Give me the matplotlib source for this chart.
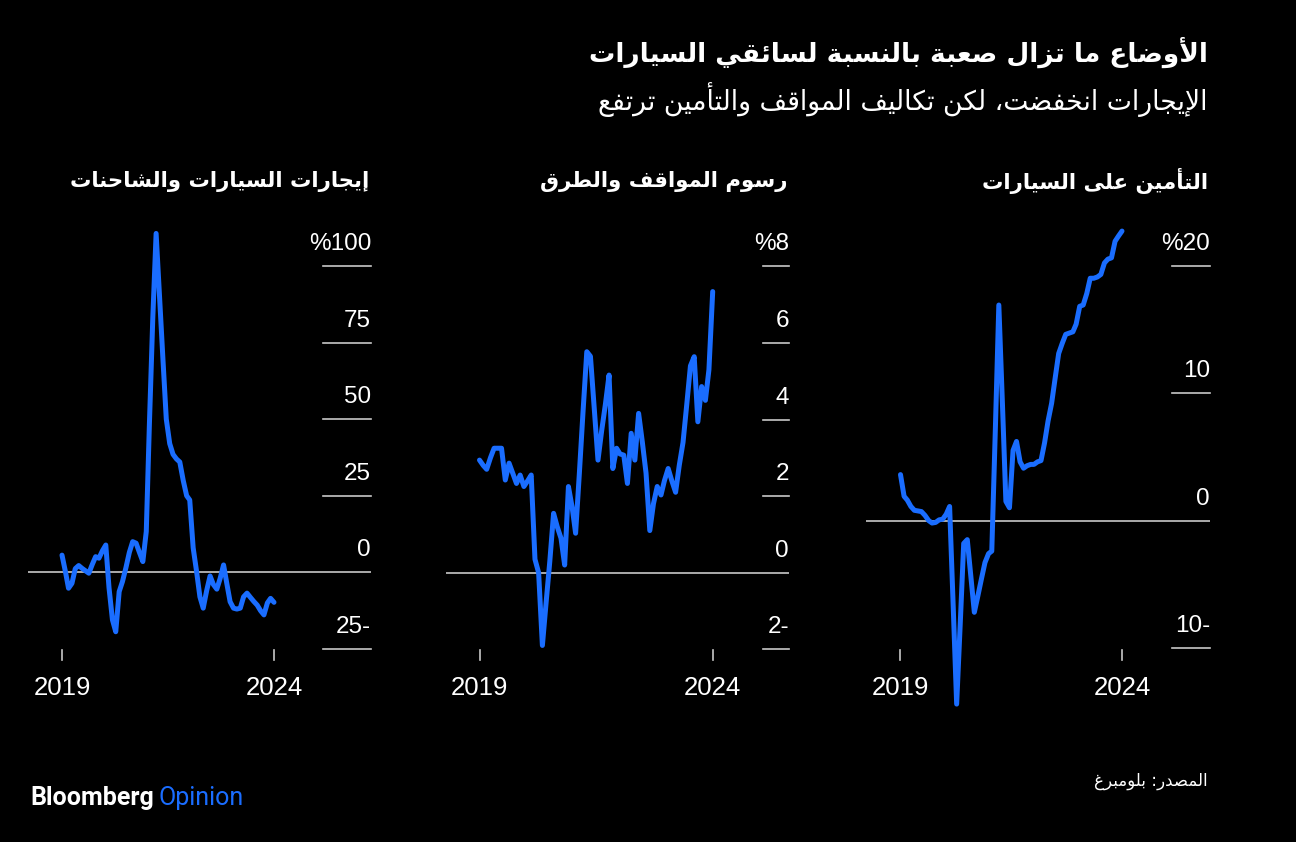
import matplotlib
matplotlib.use("Agg")
import matplotlib.pyplot as plt
import matplotlib.dates as mdates
from matplotlib.transforms import blended_transform_factory
import pandas as pd

# ---------------- data ----------------
dates = pd.date_range("2019-01-01", periods=64, freq="MS")
year_labels = ["2019", "2024"]

insurance = [3.6, 1.9, 1.6, 1.1, 0.8, 0.75, 0.7, 0.4, 0.0, -0.2,
             -0.15, 0.05, 0.1, 0.5, 1.1, -6.7, -14.4, -8.1, -1.8, -1.5,
             -4.4, -7.2, -5.9, -4.6, -3.3, -2.6, -2.4, 7.2, 16.9, 9.2,
             1.5, 1.0, 5.5, 6.2, 4.6, 4.1, 4.3, 4.4, 4.4, 4.6,
             4.7, 6.1, 7.8, 9.2, 11.2, 13.1, 13.9, 14.6, 14.7, 14.8,
             15.4, 16.8, 16.9, 17.8, 19.0, 19.0, 19.1, 19.3, 20.2, 20.5,
             20.6, 21.9, 22.3, 22.7]

parking = [2.94, 2.8, 2.7, 3.0, 3.25, 3.25, 3.25, 2.42, 2.86, 2.6,
           2.33, 2.55, 2.25, 2.4, 2.55, 0.35, 0.0, -1.9, -0.8, 0.3,
           1.55, 1.2, 0.9, 0.2, 2.25, 1.7, 1.03, 2.6, 4.2, 5.77,
           5.65, 4.3, 2.94, 3.7, 4.4, 5.16, 2.72, 3.25, 3.1, 3.07,
           2.33, 3.64, 2.94, 4.16, 3.4, 2.6, 1.1, 1.8, 2.25, 2.03,
           2.4, 2.72, 2.4, 2.1, 2.8, 3.4, 4.4, 5.4, 5.64, 3.94,
           4.86, 4.5, 5.3, 7.34]

rentals = [5.6, 0.2, -5.2, -3.6, 1.2, 2.2, 1.3, 0.5, -0.3, 2.5,
           5.1, 4.6, 7.0, 8.9, -5.0, -15.5, -19.4, -6.3, -3.0, 1.5,
           6.5, 10.0, 9.5, 6.5, 3.5, 13.3, 48.0, 83.0, 110.6, 90.0,
           70.0, 50.0, 42.0, 38.5, 37.0, 36.0, 30.0, 25.0, 23.6, 8.0,
           0.5, -8.0, -11.7, -6.0, -1.2, -4.0, -5.5, -2.0, 2.4, -4.0,
           -9.6, -11.7, -12.0, -11.7, -8.0, -6.8, -8.2, -9.5, -10.7, -12.5,
           -13.9, -10.0, -8.5, -9.8]

ins_ticks = [20, 10, 0, -10]
ins_labels = ["%20", "10", "0", "10-"]
park_ticks = [8, 6, 4, 2, 0, -2]
park_labels = ["%8", "6", "4", "2", "0", "2-"]
rent_ticks = [100, 75, 50, 25, 0, -25]
rent_labels = ["%100", "75", "50", "25", "0", "25-"]

title = "الأوضاع ما تزال صعبة بالنسبة لسائقي السيارات"
subtitle = "الإيجارات انخفضت، لكن تكاليف المواقف والتأمين ترتفع"
panel_titles = ["التأمين على السيارات", "رسوم المواقف والطرق", "إيجارات السيارات والشاحنات"]
source = "المصدر: بلومبرغ"

# ---------------- Arabic shaping (presentation forms + visual order) ----------------
DUAL = {'ئ': 0xFE89, 'ب': 0xFE8F, 'ت': 0xFE95, 'ث': 0xFE99, 'ج': 0xFE9D, 'ح': 0xFEA1,
        'خ': 0xFEA5, 'س': 0xFEB1, 'ش': 0xFEB5, 'ص': 0xFEB9, 'ض': 0xFEBD, 'ط': 0xFEC1,
        'ظ': 0xFEC5, 'ع': 0xFEC9, 'غ': 0xFECD, 'ف': 0xFED1, 'ق': 0xFED5, 'ك': 0xFED9,
        'ل': 0xFEDD, 'م': 0xFEE1, 'ن': 0xFEE5, 'ه': 0xFEE9, 'ي': 0xFEF1}
RIGHT = {'آ': 0xFE81, 'أ': 0xFE83, 'ؤ': 0xFE85, 'إ': 0xFE87, 'ا': 0xFE8D, 'ة': 0xFE93,
         'د': 0xFEA9, 'ذ': 0xFEAB, 'ر': 0xFEAD, 'ز': 0xFEAF, 'و': 0xFEED, 'ى': 0xFEEF}
LAMALEF = {'آ': 0xFEF5, 'أ': 0xFEF7, 'إ': 0xFEF9, 'ا': 0xFEFB}


def shape(s):
    units = []
    i = 0
    while i < len(s):
        c = s[i]
        if c == 'ل' and i + 1 < len(s) and s[i + 1] in LAMALEF:
            units.append(('R', LAMALEF[s[i + 1]]))
            i += 2
            continue
        if c in DUAL:
            units.append(('D', DUAL[c]))
        elif c in RIGHT:
            units.append(('R', RIGHT[c]))
        else:
            units.append(('N', c))
        i += 1
    out = []
    for k, (t, v) in enumerate(units):
        if t == 'N':
            out.append(v if isinstance(v, str) else chr(v))
            continue
        jp = k > 0 and units[k - 1][0] == 'D'
        jn = t == 'D' and k + 1 < len(units) and units[k + 1][0] in ('D', 'R')
        if t == 'D':
            off = 3 if (jp and jn) else 2 if jn else 1 if jp else 0
        else:
            off = 1 if jp else 0
        out.append(chr(v + off))
    return ''.join(out)[::-1]


# ---------------- figure ----------------
W, H = 1296, 842
BG = "#000000"
BLUE = "#1a6dff"
GRID = "#c8c8c8"
WHITE = "#ffffff"
ARFONT = ["DejaVu Sans"]
NUMFONT = ["Liberation Sans", "DejaVu Sans"]

fig = plt.figure(figsize=(W / 100, H / 100), dpi=100, facecolor=BG)


def fx(px):
    return px / W


def fy(py):
    return 1 - py / H


TOP, BOT = 215, 715

panels = [
    # L, R, zero pixel, px per unit, data start px, data end px, short line width
    dict(L=866, R=1210, y0=520.5, ppu=12.75, a=900.5, b=1122, sw=38,
         data=insurance, ticks=ins_ticks, labels=ins_labels, title=panel_titles[0]),
    dict(L=446, R=789, y0=572.7, ppu=38.3, a=479.5, b=712.7, sw=26,
         data=parking, ticks=park_ticks, labels=park_labels, title=panel_titles[1]),
    dict(L=28, R=371, y0=572.3, ppu=3.064, a=62, b=274, sw=48,
         data=rentals, ticks=rent_ticks, labels=rent_labels, title=panel_titles[2]),
]

dnum = mdates.date2num(dates)
for p in panels:
    ax = fig.add_axes([fx(p["L"]), fy(BOT), fx(p["R"] - p["L"]), (BOT - TOP) / H])
    ax.set_facecolor("none")
    for s in ax.spines.values():
        s.set_visible(False)
    ax.set_xticks([])
    ax.set_yticks([])
    s = (dnum[-1] - dnum[0]) / (p["b"] - p["a"])
    ax.set_xlim(dnum[0] - (p["a"] - p["L"]) * s, dnum[-1] + (p["R"] - p["b"]) * s)
    ax.set_ylim((p["y0"] - BOT) / p["ppu"], (p["y0"] - TOP) / p["ppu"])

    # zero line full width
    ax.axhline(0, color=GRID, lw=1.2, zorder=1)
    # short tick lines + labels
    tr = blended_transform_factory(ax.transAxes, ax.transData)
    frac = p["sw"] / (p["R"] - p["L"])
    for v, lab in zip(p["ticks"], p["labels"]):
        if v != 0:
            ax.plot([1 - frac, 1], [v, v], color=GRID, lw=1.2, transform=tr,
                    clip_on=False, zorder=1)
        ax.annotate(lab, xy=(1, v), xycoords=tr, xytext=(0, 11.5),
                    textcoords="offset points", ha="right", va="baseline",
                    color=WHITE, fontsize=17.5, family=NUMFONT)

    # data line
    ax.plot(dates, p["data"], color=BLUE, lw=3.6, solid_joinstyle="round",
            solid_capstyle="round", clip_on=False, zorder=3)

    # x ticks (first and last date)
    trx = blended_transform_factory(ax.transData, fig.transFigure)
    for d, lab in zip([dates[0], dates[-1]], year_labels):
        ax.plot([d, d], [fy(650), fy(660)], color=GRID, lw=1.2, transform=trx,
                clip_on=False)
        ax.text(d, fy(688), lab, transform=trx, ha="center", va="center",
                color=WHITE, fontsize=18.5, family=NUMFONT)

    # panel title
    fig.text(fx(p["R"] - 2), fy(181), shape(p["title"]), ha="right", va="center",
             color=WHITE, fontsize=15.3, fontweight="bold", family=ARFONT)

# titles
fig.text(fx(1208), fy(52), shape(title), ha="right", va="center", color=WHITE,
         fontsize=19, fontweight="bold", family=ARFONT)
fig.text(fx(1208), fy(100), shape(subtitle), ha="right", va="center", color=WHITE,
         fontsize=19.2, family=ARFONT)

# footer
fig.text(fx(1208), fy(781), shape(source), ha="right", va="center", color=WHITE,
         fontsize=12, family=ARFONT)
t1 = fig.text(fx(30), fy(798), "Bloomberg", ha="left", va="center", color=WHITE,
              fontsize=18, fontweight="bold", family=["Roboto", "DejaVu Sans"])
fig.canvas.draw()
bb = t1.get_window_extent()
fig.text(bb.x1 / W + fx(5), fy(798), "Opinion", ha="left", va="center", color=BLUE,
         fontsize=18, family=["Roboto", "DejaVu Sans"])

fig.savefig("out.png", dpi=100, facecolor=BG)
